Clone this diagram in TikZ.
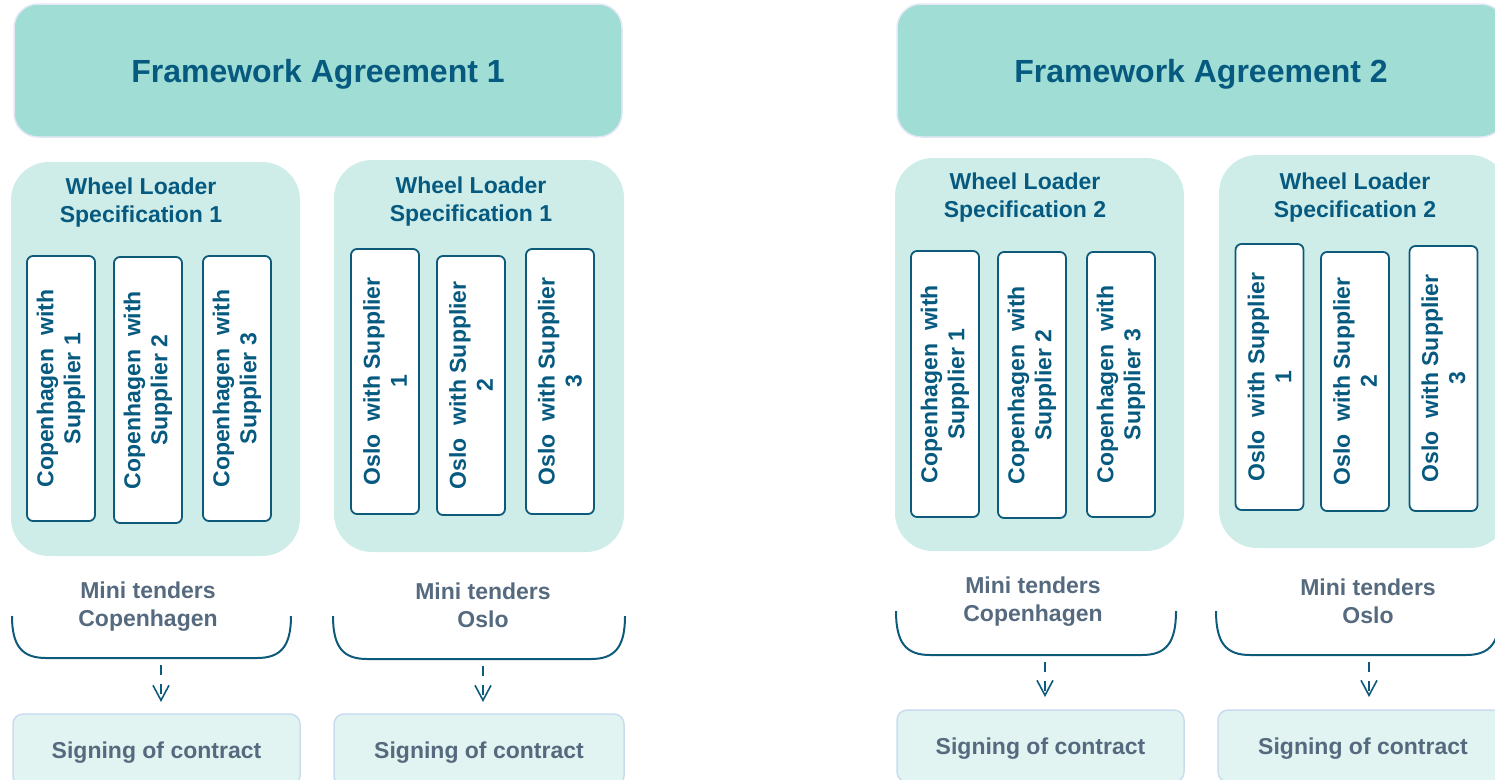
\documentclass[tikz,border=0pt]{standalone}
\usepackage{fontspec}
\setmainfont{Liberation Sans}
\usetikzlibrary{arrows.meta}
\definecolor{fwfill}{HTML}{A0DDD4}
\definecolor{fwline}{HTML}{E4E8F6}
\definecolor{specfill}{HTML}{CEEDE8}
\definecolor{dtext}{HTML}{065A80}
\definecolor{dline}{HTML}{0E5A7B}
\definecolor{gtext}{HTML}{566A7F}
\definecolor{sfill}{HTML}{E1F4F2}
\definecolor{sline}{HTML}{C9DCF0}
\tikzset{
  fwbox/.style={draw=fwline, fill=fwfill, line width=1.5pt, rounded corners=24pt, inner sep=0pt, outer sep=0pt, text=dtext, font=\fontsize{32}{38}\selectfont\bfseries, text height=23pt, text depth=0pt},
  specbox/.style={fill=specfill, rounded corners=38pt, inner sep=0pt, outer sep=0pt},
  spectitle/.style={text=dtext, font=\fontsize{23}{28}\selectfont\bfseries, align=center, inner sep=0pt},
  inbox/.style={draw=dline, fill=white, line width=1.8pt, rounded corners=6pt, rotate=90, inner sep=0pt, text=dtext, font=\fontsize{23}{27}\selectfont\bfseries, align=center},
  minilbl/.style={text=gtext, font=\fontsize{23}{28}\selectfont\bfseries, align=center, inner sep=0pt},
  bracket/.style={draw=dline, line width=2pt},
  flow/.style={draw=dline, line width=1.6pt, dash pattern=on 10pt off 9pt, -{Straight Barb[length=15pt,width=16pt]}},
  signbox/.style={draw=sline, fill=sfill, line width=1.5pt, rounded corners=10pt, inner sep=0pt, outer sep=0pt, text=gtext, font=\fontsize{23}{28}\selectfont\bfseries, text height=16.5pt, text depth=0pt}
}
\begin{document}
\begin{tikzpicture}[x=1pt,y=-1pt]
\useasboundingbox (0,0) rectangle (1495,779);
\clip (0,0) rectangle (1495,779);

% Framework agreements
\node[fwbox, minimum width=608pt, minimum height=133pt] (fw1) at (318,70.5) {Framework Agreement 1};
\node[fwbox, minimum width=608pt, minimum height=133pt] (fw2) at (1201,70.5) {Framework Agreement 2};

% Specification boxes
\node[specbox, minimum width=289pt, minimum height=394pt] (sp1) at (155.5,359) {};
\node[specbox, minimum width=290pt, minimum height=392pt] (sp2) at (479,356) {};
\node[specbox, minimum width=289pt, minimum height=393pt] (sp3) at (1039.5,354.5) {};
\node[specbox, minimum width=289pt, minimum height=393pt] (sp4) at (1363.5,351.5) {};

\node[spectitle] (t1) at (141,203) {Wheel Loader\\Specification 1};
\node[spectitle] (t2) at (471,202) {Wheel Loader\\Specification 1};
\node[spectitle] (t3) at (1025,198) {Wheel Loader\\Specification 2};
\node[spectitle] (t4) at (1355,198) {Wheel Loader\\Specification 2};

% Inner boxes
\node[inbox, minimum width=265pt, minimum height=68pt] (a1) at (61,388.5) {Copenhagen\ \ with\\Supplier 1};
\node[inbox, minimum width=266pt, minimum height=68pt] (a2) at (148,390) {Copenhagen\ \ with\\Supplier 2};
\node[inbox, minimum width=265pt, minimum height=68pt] (a3) at (237,388.5) {Copenhagen\ \ with\\Supplier 3};

\node[inbox, minimum width=265pt, minimum height=68pt] (b1) at (385,381.5) {Oslo\ \ with Supplier\\1};
\node[inbox, minimum width=259pt, minimum height=68pt] (b2) at (471,385.5) {Oslo\ \ with Supplier\\2};
\node[inbox, minimum width=265pt, minimum height=68pt] (b3) at (560,381.5) {Oslo\ \ with Supplier\\3};

\node[inbox, minimum width=266pt, minimum height=68pt] (c1) at (945,384) {Copenhagen\ \ with\\Supplier 1};
\node[inbox, minimum width=266pt, minimum height=68pt] (c2) at (1032,385) {Copenhagen\ \ with\\Supplier 2};
\node[inbox, minimum width=265pt, minimum height=68pt] (c3) at (1121,384.5) {Copenhagen\ \ with\\Supplier 3};

\node[inbox, minimum width=266pt, minimum height=68pt] (d1) at (1269.5,377) {Oslo\ \ with Supplier\\1};
\node[inbox, minimum width=259pt, minimum height=68pt] (d2) at (1355,381.5) {Oslo\ \ with Supplier\\2};
\node[inbox, minimum width=265pt, minimum height=68pt] (d3) at (1443.5,378.5) {Oslo\ \ with Supplier\\3};

% Mini tender labels
\node[minilbl] (m1) at (148,607) {Mini tenders\\Copenhagen};
\node[minilbl] (m2) at (483,605) {Mini tenders\\Oslo};
\node[minilbl] (m3) at (1033,601.5) {Mini tenders\\Copenhagen};
\node[minilbl] (m4) at (1368,601) {Mini tenders\\Oslo};

% Brackets
\draw[bracket] (12,616) .. controls (12,646) and (22,658) .. (46,658) -- (257,658) .. controls (281,658) and (291,646) .. (291,616);
\draw[bracket] (333,616) .. controls (333,647) and (343,659) .. (367,659) -- (591,659) .. controls (615,659) and (625,647) .. (625,616);
\draw[bracket] (896,611) .. controls (896,643) and (906,655) .. (930,655) -- (1142,655) .. controls (1166,655) and (1176,643) .. (1176,611);
\draw[bracket] (1216,611) .. controls (1216,643) and (1226,655) .. (1250,655) -- (1466,655) .. controls (1490,655) and (1500,643) .. (1500,611);

\coordinate (k1) at (161,658);
\coordinate (k2) at (483,659);
\coordinate (k3) at (1045,655);
\coordinate (k4) at (1369,655);

% Signing boxes
\node[signbox, minimum width=287pt, minimum height=72pt] (s1) at (156.5,750) {Signing of contract};
\node[signbox, minimum width=290pt, minimum height=72pt] (s2) at (479,750) {Signing of contract};
\node[signbox, minimum width=287pt, minimum height=72pt] (s3) at (1040.5,746) {Signing of contract};
\node[signbox, minimum width=290pt, minimum height=72pt] (s4) at (1363,746) {Signing of contract};

% Flow arrows
\draw[flow, shorten <=7pt, shorten >=12pt] (k1) -- (k1 |- s1.north);
\draw[flow, shorten <=7pt, shorten >=12pt] (k2) -- (k2 |- s2.north);
\draw[flow, shorten <=7pt, shorten >=13pt] (k3) -- (k3 |- s3.north);
\draw[flow, shorten <=7pt, shorten >=13pt] (k4) -- (k4 |- s4.north);
\end{tikzpicture}
\end{document}
